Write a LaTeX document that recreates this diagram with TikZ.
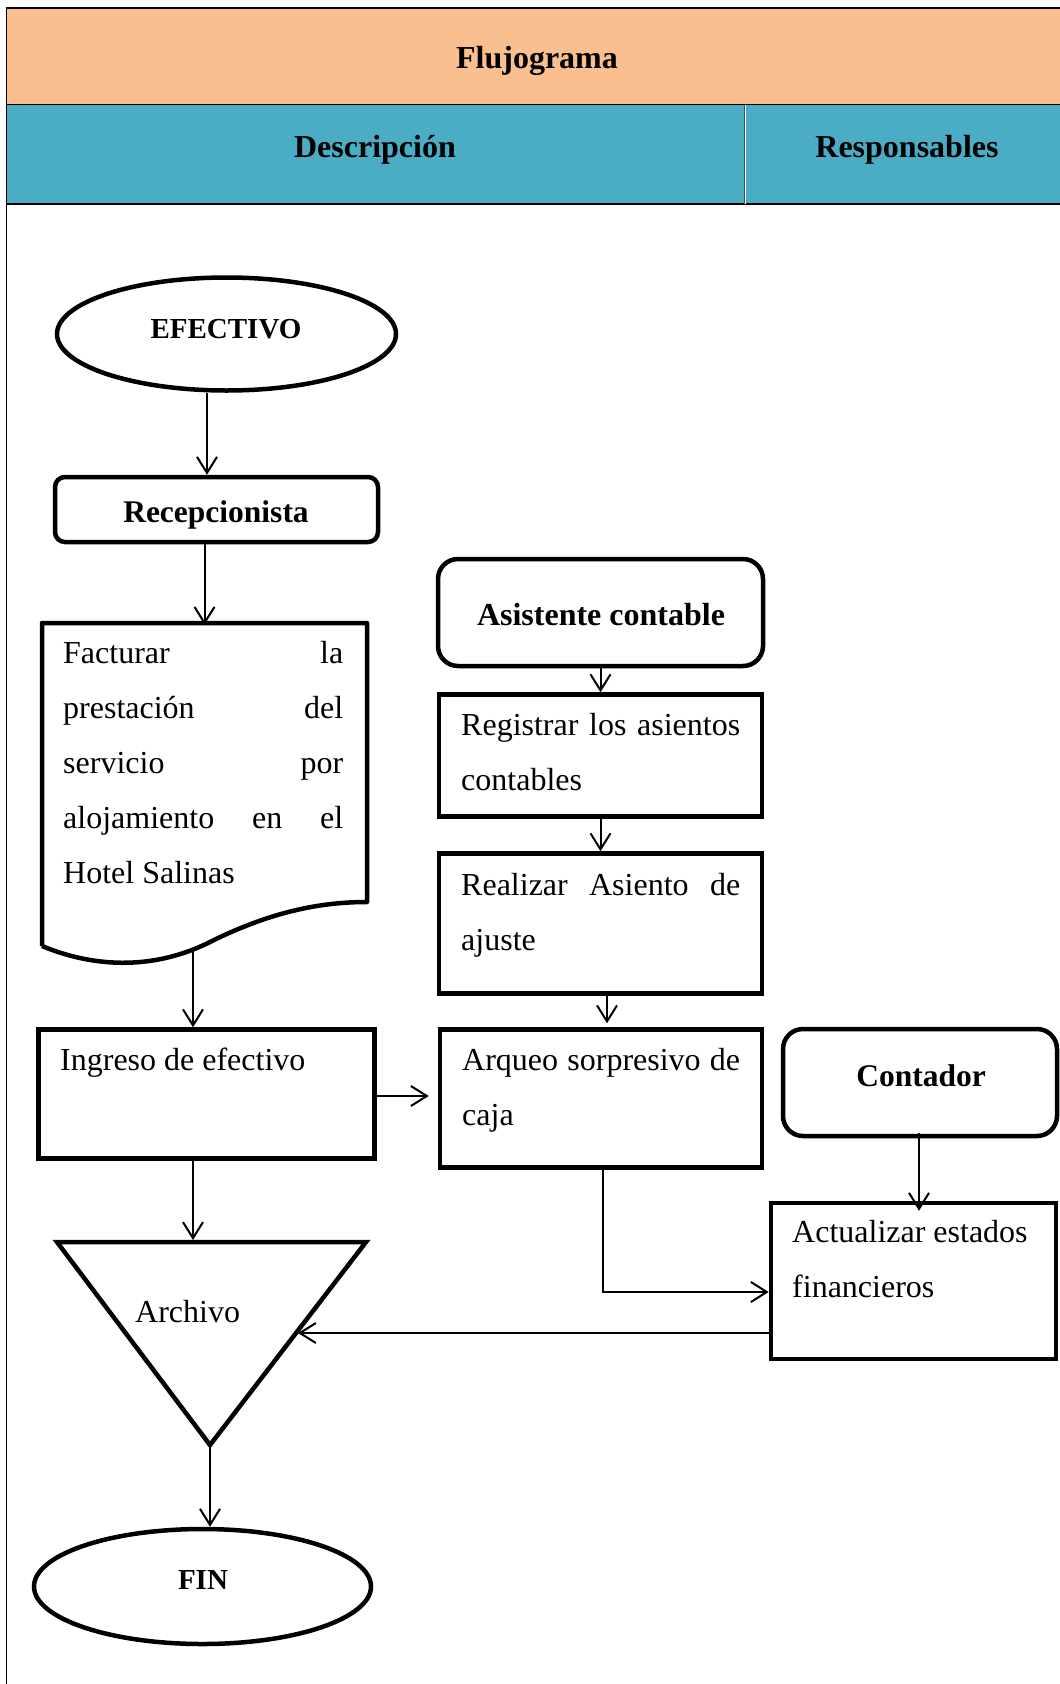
\documentclass[tikz,border=0pt]{standalone}
\usepackage{fontspec}
\setmainfont{Liberation Serif}
\usetikzlibrary{arrows.meta,shapes.geometric}
\definecolor{hdrorange}{HTML}{F9BF8F}
\definecolor{hdrblue}{HTML}{4BACC6}
\newcommand\myjbox[2]{\parbox[t]{#1}{\fontsize{32}{55}\selectfont #2}}
\begin{document}
\begin{tikzpicture}[x=1pt,y=-1pt,
  shp/.style={draw=black, line width=4.5pt, inner sep=0pt},
  boxs/.style={shp, rectangle},
  rbox/.style={shp, rectangle, rounded corners=#1},
  ell/.style={shp, ellipse},
  arr/.style={line width=2pt, -{Straight Barb[length=16pt,width=20pt]}},
  txt/.style={inner sep=0pt, anchor=base west, font=\fontsize{32}{55}\selectfont},
  btxt/.style={inner sep=0pt, anchor=base, font=\fontsize{32}{38}\selectfont\bfseries},
  tbl/.style={line width=1.5pt}
]
\useasboundingbox (0,0) rectangle (1060,1684);
\fill[white] (0,0) rectangle (1060,1684);

% header
\fill[hdrorange] (6.5,8) rectangle (1060,104.5);
\fill[hdrblue] (6.5,104.5) rectangle (1060,204);
\draw[tbl] (1060,8) -- (6.5,8) -- (6.5,1684);
\draw[tbl] (6.5,104.5) -- (1060,104.5);
\draw[tbl] (6.5,204) -- (1060,204);
\draw[line width=1.2pt, white] (745.5,104.5) -- (745.5,204);
\draw[line width=1pt, black!70] (744,104.5) -- (744,204);
\node[btxt] (hflu) at (537,68) {Flujograma};
\node[btxt] (hdes) at (375,157) {Descripción};
\node[btxt] (hres) at (907,157) {Responsables};

% left column
\node[ell, minimum width=339pt, minimum height=113pt] (efe) at (226.5,334) {};
\node[btxt, font=\fontsize{29}{35}\selectfont\bfseries] (efeT) at (226,338) {EFECTIVO};

\node[rbox=10pt, minimum width=323pt, minimum height=65pt] (rec) at (216.5,509.5) {};
\node[btxt, font=\fontsize{31.5}{38}\selectfont\bfseries] (recT) at (216,522) {Recepcionista};

\node[inner sep=0pt, minimum width=325pt, minimum height=278pt] (fac) at (204.5,764) {};
\draw[line width=4.5pt, line join=round] (42,946) -- (42,623) -- (367,623) -- (367,902)
  .. controls (320,902) and (270,912) .. (210,942)
  .. controls (150,972) and (90,966) .. (42,946);
\node[txt] (facT) at (63,663) {\myjbox{280pt}{Facturar\hfill la\\prestación\hfill del\\servicio\hfill por\\alojamiento\hfill en\hfill el\\Hotel Salinas}};
\coordinate (facB) at (193,950);

\node[boxs, minimum width=336pt, minimum height=129pt] (ing) at (206.3,1094) {};
\node[txt] (ingT) at (60,1070) {Ingreso de efectivo};

\coordinate (triA) at (57,1242);
\coordinate (triB) at (366,1242);
\coordinate (triC) at (210,1445);
\draw[line width=4.5pt, line join=miter] (triA) -- (triB) -- (triC) -- cycle;
\node[txt] (archT) at (135,1322) {Archivo};
\coordinate (archR) at (298,1333);

\node[ell, minimum width=337pt, minimum height=115pt] (fin) at (202.5,1586.5) {};
\node[btxt, font=\fontsize{29}{35}\selectfont\bfseries] (finT) at (203,1589) {FIN};

% middle column
\node[rbox=20pt, minimum width=325pt, minimum height=107pt] (asis) at (600.5,612.5) {};
\node[btxt] (asisT) at (601,625) {Asistente contable};

\node[boxs, minimum width=323pt, minimum height=122pt] (reg) at (600.5,755.5) {};
\node[txt] (regT) at (461,735) {\myjbox{279pt}{Registrar\hfill los\hfill asientos\\contables}};

\node[boxs, minimum width=323pt, minimum height=140pt] (real) at (600.5,923.5) {};
\node[txt] (realT) at (461,895) {\myjbox{279pt}{Realizar\hfill Asiento\hfill de\\ajuste}};

\node[boxs, minimum width=322pt, minimum height=138pt] (arq) at (601,1098.5) {};
\node[txt] (arqT) at (462,1070) {\myjbox{278pt}{Arqueo\hfill sorpresivo\hfill de\\caja}};

% right column
\node[rbox=20pt, minimum width=274pt, minimum height=107pt] (cont) at (920,1082.5) {};
\node[btxt, font=\fontsize{31.5}{38}\selectfont\bfseries] (contT) at (921,1086) {Contador};

\node[boxs, minimum width=285pt, minimum height=156pt] (act) at (913.5,1281) {};
\node[txt] (actT) at (792,1242) {\myjbox{260pt}{Actualizar estados\\financieros}};

% connectors
\draw[arr] ([xshift=-19.5pt]efe.south) -- ([xshift=-9.5pt]rec.north);
\draw[arr] (rec.south -| fac.north) -- (fac.north);
\draw[arr] (facB) -- (facB |- ing.north);
\draw[arr, shorten >=9pt] ([yshift=-2pt]ing.east) -- ([yshift=-2pt]ing.east -| arq.west);
\draw[arr, shorten >=2pt] ([xshift=-13.3pt]ing.south) -- ([xshift=-13.3pt]ing.south |- triA);
\draw[arr] (triC) -- (triC |- fin.north);
\draw[arr] (asis.south) -- (reg.north);
\draw[arr] (reg.south) -- (real.north);
\draw[arr, shorten >=4pt] ([xshift=6.5pt]real.south) -- ([xshift=6.5pt]real.south |- arq.north);
\draw[arr, shorten <=-5pt, shorten >=-10pt] ([xshift=-1pt]cont.south) -- ([xshift=-1pt]cont.south |- act.north);
\draw[arr] ([xshift=2pt]arq.south) |- ([yshift=-11pt]act.west);
\draw[arr] ([yshift=-52pt]act.west) -- (archR);
\end{tikzpicture}
\end{document}
